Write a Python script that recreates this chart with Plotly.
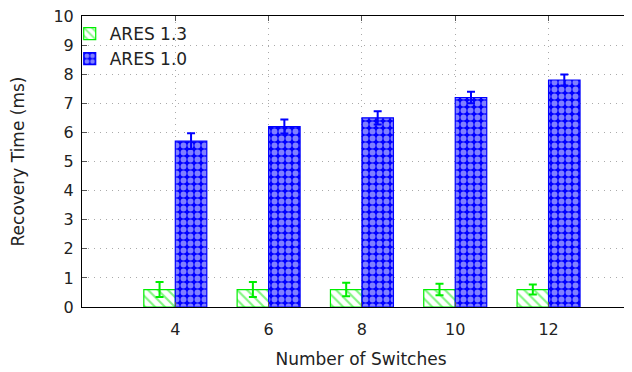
import plotly.graph_objects as go

switches = [4, 6, 8, 10, 12]
ares13 = [0.6, 0.6, 0.6, 0.6, 0.6]
ares13_err = [0.26, 0.26, 0.23, 0.2, 0.17]
ares10 = [5.7, 6.2, 6.5, 7.2, 7.8]
ares10_err = [0.27, 0.24, 0.23, 0.2, 0.19]
y_ticks = [0, 1, 2, 3, 4, 5, 6, 7, 8, 9, 10]

green = "#00ee00"
blue = "#0000ff"

fig = go.Figure()
fig.add_trace(go.Bar(
    x=switches, y=ares13, name="ARES 1.3",
    marker=dict(color="white", line=dict(color=green, width=1.2),
                pattern=dict(shape="\\", fgcolor=green, bgcolor="white", size=7, solidity=0.3)),
    error_y=dict(type="data", array=ares13_err, color=green, thickness=2, width=4),
))
fig.add_trace(go.Bar(
    x=switches, y=ares10, name="ARES 1.0",
    marker=dict(color=blue, line=dict(color=blue, width=1.2),
                pattern=dict(shape=".", fgcolor="white", bgcolor=blue, size=7, solidity=0.55)),
    error_y=dict(type="data", array=ares10_err, color=blue, thickness=2, width=4),
))

txt = "#222222"
fig.update_layout(
    width=632, height=372,
    margin=dict(l=74, r=0, t=8, b=73, autoexpand=False),
    plot_bgcolor="white", paper_bgcolor="white",
    font=dict(family="DejaVu Sans", size=16, color=txt),
    barmode="group", bargap=0.325, bargroupgap=0,
    legend=dict(x=-0.022, y=1.0, xanchor="left", yanchor="top",
                bgcolor="rgba(0,0,0,0)", font=dict(family="DejaVu Sans", size=17, color=txt)),
)
grid = dict(showgrid=True, gridcolor="#aaaaaa", griddash="1px,5px", gridwidth=1)
fig.update_xaxes(
    range=[2, 13.96], tickvals=switches, ticktext=[str(s) for s in switches],
    showline=True, linecolor="black", linewidth=1, mirror="ticks",
    ticks="inside", ticklen=5, tickcolor="#555555", ticklabelstandoff=8,
    ticklabeloverflow="allow",
    title=dict(text="Number of Switches", font=dict(size=17), standoff=14),
    zeroline=False, automargin=False, **grid,
)
fig.update_yaxes(
    range=[0, 10], tickvals=y_ticks,
    showline=True, linecolor="black", linewidth=1, mirror="ticks",
    ticks="inside", ticklen=5, tickcolor="#555555", ticklabelstandoff=4,
    ticklabeloverflow="allow",
    title=dict(text="Recovery Time (ms)", font=dict(size=17), standoff=36),
    zeroline=False, automargin=False, **grid,
)
fig.write_html("out.html")
